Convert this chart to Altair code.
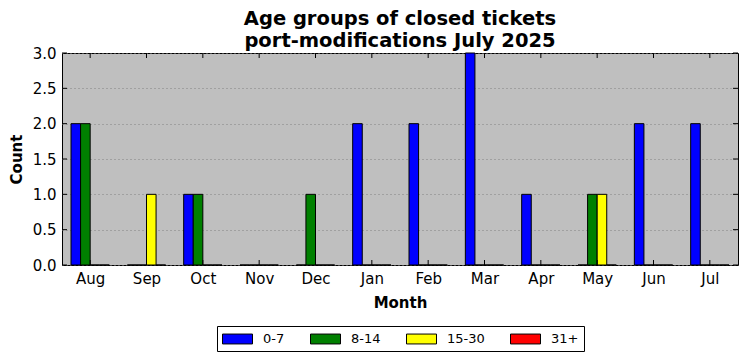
import altair as alt
import pandas as pd
import json

months = ["Aug", "Sep", "Oct", "Nov", "Dec", "Jan", "Feb", "Mar", "Apr", "May", "Jun", "Jul"]
series = ["0-7", "8-14", "15-30", "31+"]
colors = ["#0000ff", "#008000", "#ffff00", "#ff0000"]
c0_7 = [2, 0, 1, 0, 0, 2, 2, 3, 1, 0, 2, 2]
c8_14 = [2, 0, 1, 0, 1, 0, 0, 0, 0, 1, 0, 0]
c15_30 = [0, 1, 0, 0, 0, 0, 0, 0, 0, 1, 0, 0]
c31 = [0, 0, 0, 0, 0, 0, 0, 0, 0, 0, 0, 0]
y_ticks = [0, 0.5, 1.0, 1.5, 2.0, 2.5, 3.0]

W, H = 676, 212
BW = 0.17

rows = []
for si, (name, vals) in enumerate(zip(series, [c0_7, c8_14, c15_30, c31])):
    for mi, v in enumerate(vals):
        rows.append({"idx": mi, "month": months[mi], "series": name, "si": si, "count": v})
df = pd.DataFrame(rows)
ticks_x = pd.DataFrame({"idx": list(range(len(months)))})
ticks_y = pd.DataFrame({"v": y_ticks})

font = "DejaVu Sans"
xscale = alt.Scale(domain=[-0.5, 11.5], nice=False, zero=False)
yscale = alt.Scale(domain=[0, 3], nice=False)

label_expr = json.dumps(months) + "[datum.value]"

x_axis = alt.Axis(values=list(range(12)), labelExpr=label_expr, title="Month",
                  grid=False, ticks=False, domain=False, labelPadding=6,
                  labelFontSize=15, labelFont=font, labelColor="black",
                  labelOverlap=False,
                  titleFont=font, titleFontSize=15, titleFontWeight="bold",
                  titleColor="black", titlePadding=9)
y_axis = alt.Axis(values=y_ticks, format=".1f", title="Count",
                  grid=True, gridColor="#808080", gridDash=[1, 3], gridWidth=1,
                  ticks=False, domain=False, labelPadding=6, labelOverlap=False,
                  labelFontSize=15, labelFont=font, labelColor="black",
                  titleFont=font, titleFontSize=15, titleFontWeight="bold",
                  titleColor="black", titlePadding=8)

bars = alt.Chart(df).transform_calculate(
    x0=f"datum.idx + (datum.si - 2) * {BW}",
    x1=f"datum.idx + (datum.si - 1) * {BW}",
    base="0",
).mark_bar(stroke="black", strokeWidth=1).encode(
    x=alt.X("x0:Q", scale=xscale, axis=x_axis),
    x2="x1:Q",
    y=alt.Y("count:Q", scale=yscale, axis=y_axis),
    y2="base:Q",
    color=alt.Color("series:N", scale=alt.Scale(domain=series, range=colors),
                    legend=alt.Legend(title=None, orient="none", direction="horizontal",
                                      legendX=155, legendY=273,
                                      symbolType="M-1,-0.66L3,-0.66L3,0.66L-1,0.66Z",
                                      symbolSize=225, symbolStrokeColor="black",
                                      symbolStrokeWidth=1, symbolOpacity=1,
                                      labelFont=font, labelFontSize=13, labelColor="black",
                                      labelOffset=25, columnPadding=23,
                                      strokeColor="black", padding=5, fillColor="white")),
)

tick_len = 5
xt_bottom = alt.Chart(ticks_x).mark_rule(color="black").encode(
    x=alt.X("idx:Q", scale=xscale, axis=x_axis), y=alt.value(H), y2=alt.value(H - tick_len))
xt_top = alt.Chart(ticks_x).mark_rule(color="black").encode(
    x=alt.X("idx:Q", scale=xscale, axis=x_axis), y=alt.value(0), y2=alt.value(tick_len))
yt_left = alt.Chart(ticks_y).mark_rule(color="black").encode(
    y=alt.Y("v:Q", scale=yscale, axis=y_axis), x=alt.value(0), x2=alt.value(tick_len))
yt_right = alt.Chart(ticks_y).mark_rule(color="black").encode(
    y=alt.Y("v:Q", scale=yscale, axis=y_axis), x=alt.value(W - tick_len), x2=alt.value(W))

chart = alt.layer(bars, xt_bottom, xt_top, yt_left, yt_right).properties(
    width=W, height=H,
    title=alt.TitleParams(["Age groups of closed tickets", "port-modifications July 2025"],
                          font=font, fontSize=19.5, fontWeight="bold", color="black",
                          anchor="middle", offset=2, lineHeight=22, dy=7),
    autosize=alt.AutoSizeParams(type="none"),
    padding={"left": 54, "top": 45, "right": 1, "bottom": 90},
    background="white",
).configure_view(fill="#bfbfbf", stroke="black", strokeWidth=1)

chart.save("out.html", embed_options={"renderer": "svg", "actions": False})
